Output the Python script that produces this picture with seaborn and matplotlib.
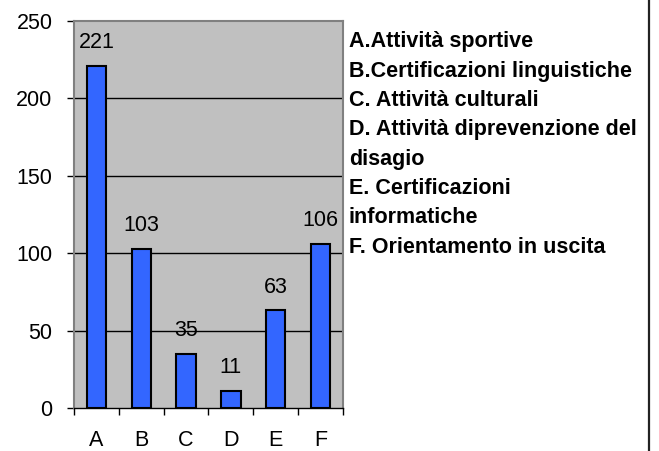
import matplotlib
matplotlib.use("Agg")
import matplotlib.pyplot as plt
import matplotlib.lines as mlines
import seaborn as sns
import pandas as pd
import numpy as np

categories = ["A", "B", "C", "D", "E", "F"]
values = [221, 103, 35, 11, 63, 106]
y_ticks = [0, 50, 100, 150, 200, 250]
legend_lines = [
    "A.Attività sportive",
    "B.Certificazioni linguistiche",
    "C. Attività culturali",
    "D. Attività diprevenzione del",
    "disagio",
    "E. Certificazioni",
    "informatiche",
    "F. Orientamento in uscita",
]

sns.set_style("white")
plt.rcParams["font.family"] = ["Liberation Sans", "DejaVu Sans"]
plt.rcParams["text.color"] = "black"
plt.rcParams["xtick.color"] = "black"
plt.rcParams["ytick.color"] = "black"

FS = 15.5
W, H = 659, 451
fig = plt.figure(figsize=(W / 100, H / 100), dpi=100)
fig.patch.set_facecolor("white")
ax = fig.add_axes([74 / W, (H - 408) / H, (343 - 74) / W, (408 - 21) / H])

df = pd.DataFrame({"cat": categories, "val": values})
sns.barplot(data=df, x="cat", y="val", color="#3366FF", saturation=1,
            edgecolor="black", linewidth=1.5, width=0.43, ax=ax, zorder=3)

ax.set_facecolor("#C0C0C0")
ax.set_ylim(0, 250)
ax.set_xlim(-0.5, len(categories) - 0.5)
ax.set_yticks(y_ticks)
ax.set_yticklabels([str(t) for t in y_ticks], fontsize=FS)
ax.set_xlabel("")
ax.set_ylabel("")

for t in y_ticks[1:-1]:
    ax.axhline(t, color="black", linewidth=1, zorder=1)

for side in ["top", "right", "left"]:
    ax.spines[side].set_color("#808080")
    ax.spines[side].set_linewidth(1.5)
ax.spines["bottom"].set_color("black")
ax.spines["bottom"].set_linewidth(1)
ax.spines["bottom"].set_zorder(4)

ax.tick_params(axis="y", direction="out", length=5, width=1, color="black", pad=10.5, left=True)
ax.set_xticks(np.arange(len(categories)))
ax.set_xticklabels(categories, fontsize=FS)
ax.tick_params(axis="x", which="major", length=0, pad=16, bottom=True)
ax.set_xticks(np.arange(len(categories) + 1) - 0.5, minor=True)
ax.tick_params(axis="x", which="minor", direction="out", length=5, width=1, color="black", bottom=True)

for c in ax.containers:
    ax.bar_label(c, labels=[str(v) for v in values], padding=9, fontsize=FS)

y0 = 42
step = 29.3
for i, line in enumerate(legend_lines):
    fig.text(349 / W, 1 - (y0 + i * step) / H, line, fontsize=FS, fontweight="bold",
             ha="left", va="center")

fig.add_artist(mlines.Line2D([649 / W, 649 / W], [0, 1], color="#222222", linewidth=1.6,
                             transform=fig.transFigure))

fig.savefig("out.png", dpi=100)
